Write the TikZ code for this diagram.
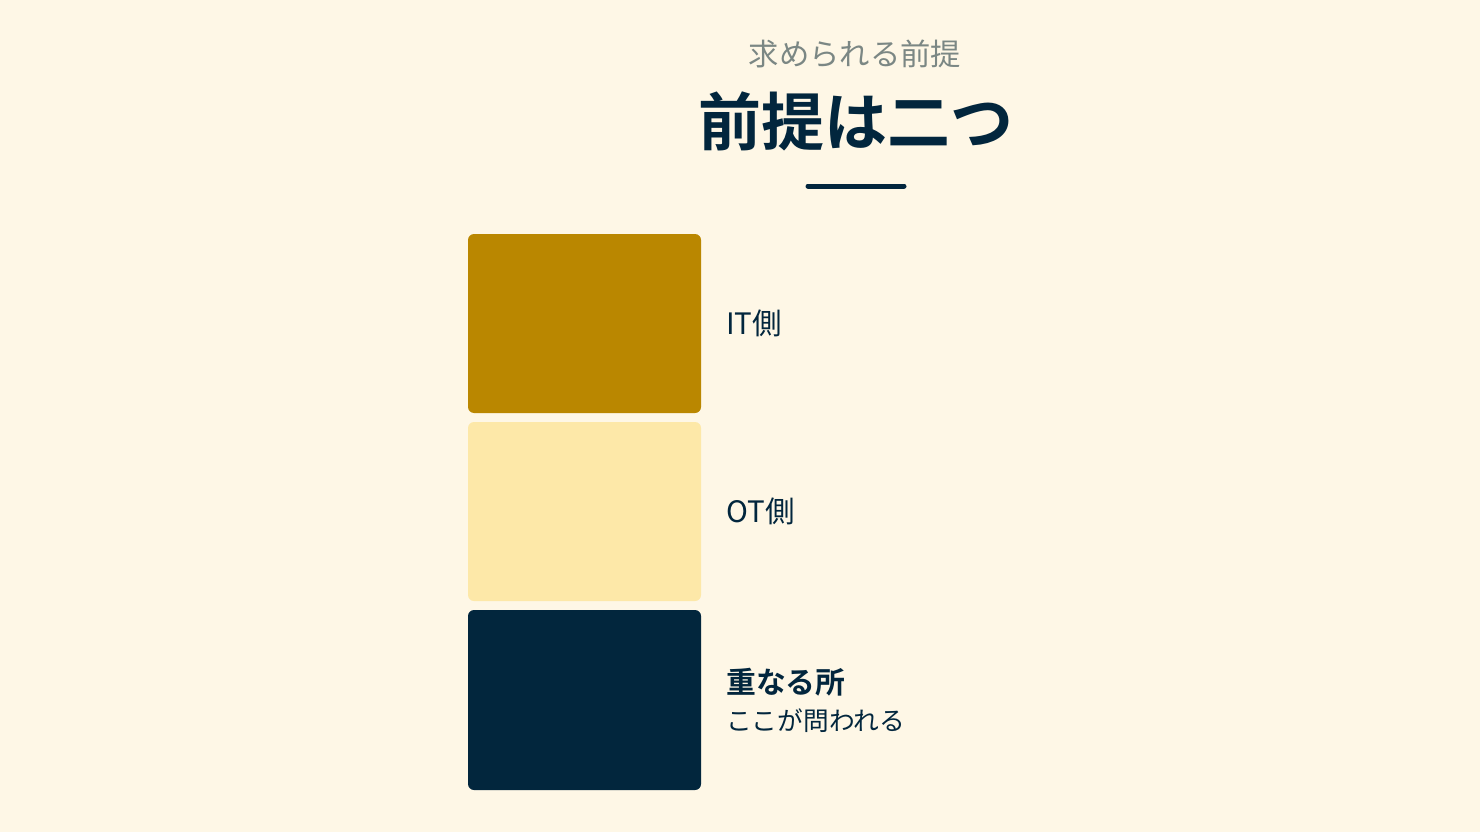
\documentclass[tikz,border=0pt]{standalone}
\usepackage{fontspec}
\newfontfamily\jp{Noto Sans CJK JP}
\newfontfamily\jpb{Noto Sans CJK JP Bold}
\definecolor{bg}{HTML}{FEF7E6}
\definecolor{gold}{HTML}{BA8700}
\definecolor{pale}{HTML}{FDE8A8}
\definecolor{navy}{HTML}{02263D}
\definecolor{greytxt}{HTML}{7B8784}
\tikzset{
  card/.style={rounded corners=6pt, inner sep=0pt},
  lbl/.style={anchor=west, inner sep=0pt, text=navy, font=\jp\fontsize{29.5}{32}\selectfont},
}
\begin{document}
\begin{tikzpicture}[x=1pt,y=-1pt]
\fill[bg] (0,0) rectangle (1480,832);
\useasboundingbox (0,0) rectangle (1480,832);
\node[inner sep=0pt, text=greytxt, font=\jp\fontsize{30.3}{34}\selectfont] (sub) at (855,54) {求められる前提};
\node[inner sep=0pt, text=navy, font=\jpb\fontsize{63}{70}\selectfont] (title) at (856,121) {前提は二つ};
\coordinate (ul) at (808,186);
\coordinate (ur) at (904,186);
\draw[navy, line width=5pt, line cap=round] (ul) -- (ur);
\fill[gold, card] (468,234) rectangle (701,413);
\node (it) at (584.5,323.5) {};
\fill[pale, card] (468,422) rectangle (701,601);
\node (ot) at (584.5,511.5) {};
\fill[navy, card] (468,610) rectangle (701,790);
\node (ov) at (584.5,700) {};
\node[lbl] (itl) at (726,323) {IT側};
\node[lbl] (otl) at (726,511) {OT側};
\node[lbl, font=\jpb\fontsize{29.8}{32}\selectfont] (ovl) at (726,682) {重なる所};
\node[lbl, font=\jp\fontsize{25.7}{30}\selectfont] (ovs) at (726,721) {ここが問われる};
\end{tikzpicture}
\end{document}
